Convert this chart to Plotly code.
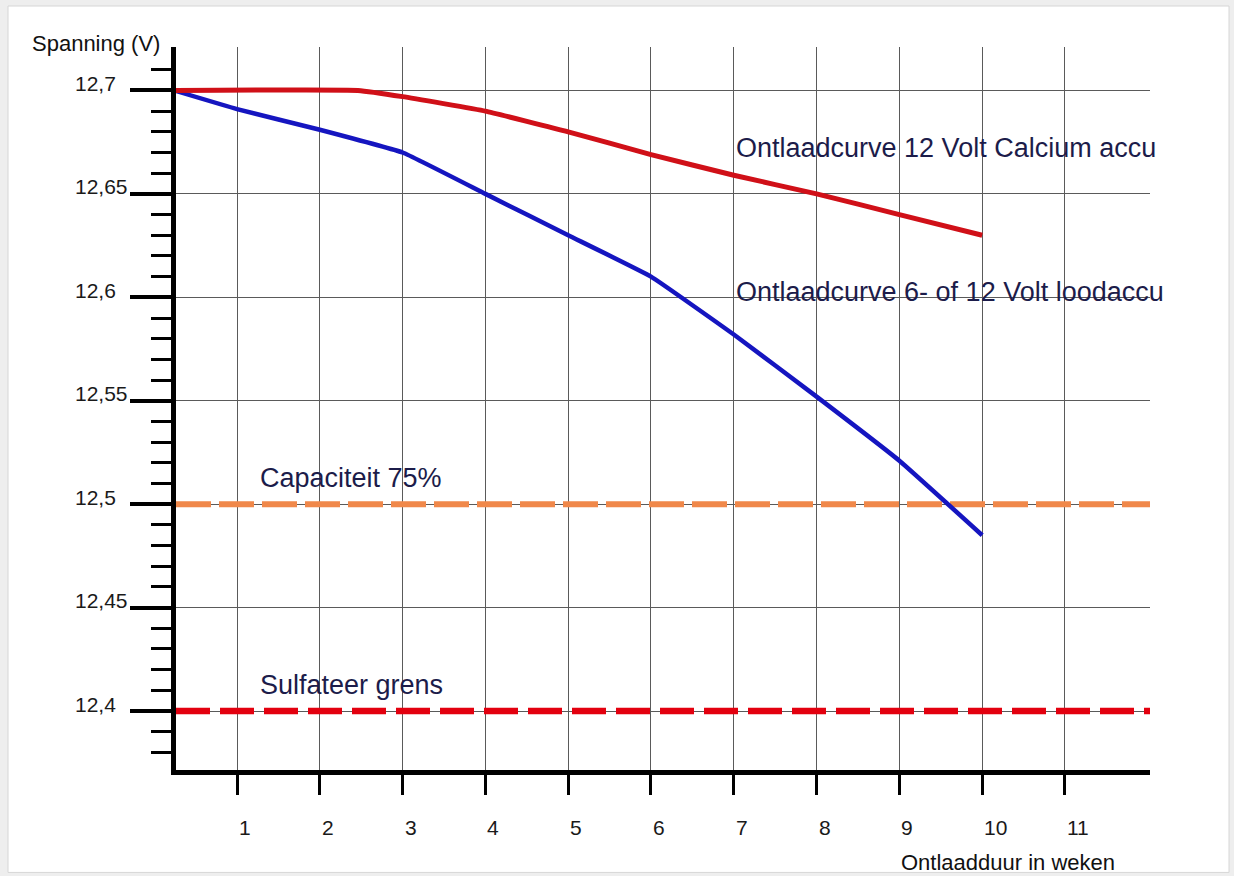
import numpy as np
import plotly.graph_objects as go

# ---------------- data ----------------
weeks_calcium = [0.24, 2.46, 3, 4, 5, 6, 7, 8, 9, 10]
volt_calcium = [12.70, 12.70, 12.697, 12.690, 12.680, 12.669, 12.659, 12.650, 12.640, 12.630]

weeks_lood = [0.24, 1, 2, 3, 4, 5, 6, 7, 8, 9, 10]
volt_lood = [12.70, 12.691, 12.681, 12.670, 12.650, 12.630, 12.610, 12.582, 12.552, 12.521, 12.485]

capaciteit_75 = 12.50
sulfateer_grens = 12.40

x_ticks = [1, 2, 3, 4, 5, 6, 7, 8, 9, 10, 11]
y_ticks = [12.40, 12.45, 12.50, 12.55, 12.60, 12.65, 12.70]
y_ticktext = ["12,4", "12,45", "12,5", "12,55", "12,6", "12,65", "12,7"]

label_calcium = "Ontlaadcurve 12 Volt Calcium accu"
label_lood = "Ontlaadcurve 6- of 12 Volt loodaccu"
label_cap = "Capaciteit 75%"
label_sulf = "Sulfateer grens"

X_RANGE = [0.263, 12.027]
Y_RANGE = [12.3715, 12.721]

FONT = "Liberation Sans, Arial, sans-serif"
TXT = "#1c1c4a"

L, R, T, B = 176, 84, 47, 105.5
W, H = 1234, 876
PW, PH = W - L - R, H - T - B


def px(xp):
    return (xp - L) / PW


def py(yp):
    return (H - B - yp) / PH


minor_vals = [round(v, 2) for v in np.arange(12.38, 12.7151, 0.01)
              if all(abs(v - t) > 1e-6 for t in y_ticks)]

fig = go.Figure()

# reference levels
fig.add_trace(go.Scatter(x=X_RANGE, y=[capaciteit_75] * 2, mode="lines",
                         line=dict(color="#F0884A", width=6, dash="35px,8px"),
                         hoverinfo="skip", showlegend=False))
fig.add_trace(go.Scatter(x=X_RANGE, y=[sulfateer_grens] * 2, mode="lines",
                         line=dict(color="#E3000F", width=6.5, dash="34px,10px"),
                         hoverinfo="skip", showlegend=False))
# curves
fig.add_trace(go.Scatter(x=weeks_lood, y=volt_lood, mode="lines",
                         line=dict(color="#1515C0", width=4.5, shape="spline", smoothing=0.3),
                         showlegend=False))
fig.add_trace(go.Scatter(x=weeks_calcium, y=volt_calcium, mode="lines",
                         line=dict(color="#D01018", width=5, shape="spline", smoothing=0.3),
                         showlegend=False))

annotations = []
# y tick labels (left aligned)
for v, t in zip(y_ticks, y_ticktext):
    annotations.append(dict(x=px(73), xref="paper", y=v, yref="y", text=t,
                            xanchor="left", yanchor="middle", yshift=7, showarrow=False,
                            font=dict(family=FONT, size=21, color="#1a1a1a")))
# x tick labels (left aligned at tick)
for v in x_ticks:
    annotations.append(dict(x=v, xref="x", y=py(828), yref="paper", text=str(v),
                            xanchor="left", yanchor="middle", showarrow=False,
                            font=dict(family=FONT, size=21, color="#1a1a1a")))
# axis titles
annotations.append(dict(x=px(30), xref="paper", y=py(43), yref="paper", text="Spanning (V)",
                        xanchor="left", yanchor="middle", showarrow=False,
                        font=dict(family=FONT, size=22, color="#111111")))
annotations.append(dict(x=9, xref="x", y=py(863), yref="paper", text="Ontlaadduur in weken",
                        xanchor="left", yanchor="middle", showarrow=False,
                        font=dict(family=FONT, size=22, color="#111111")))
# curve labels
annotations.append(dict(x=7.0, y=12.6722, xref="x", yref="y", text=label_calcium,
                        xanchor="left", yanchor="middle", showarrow=False,
                        font=dict(family=FONT, size=27, color=TXT)))
annotations.append(dict(x=7.0, y=12.6027, xref="x", yref="y", text=label_lood,
                        xanchor="left", yanchor="middle", showarrow=False,
                        font=dict(family=FONT, size=27, color=TXT)))
annotations.append(dict(x=1.254, y=12.5128, xref="x", yref="y", text=label_cap,
                        xanchor="left", yanchor="middle", showarrow=False,
                        font=dict(family=FONT, size=27, color=TXT)))
annotations.append(dict(x=1.254, y=12.4124, xref="x", yref="y", text=label_sulf,
                        xanchor="left", yanchor="middle", showarrow=False,
                        font=dict(family=FONT, size=27, color=TXT)))

fig.update_layout(
    width=W, height=H,
    margin=dict(l=L, r=R, t=T, b=B, pad=0),
    paper_bgcolor="#eeeeee",
    plot_bgcolor="white",
    font=dict(family=FONT, size=21, color="#222222"),
    showlegend=False,
    annotations=annotations,
    shapes=[dict(type="rect", xref="paper", yref="paper",
                 x0=px(8), x1=px(1229), y0=py(873), y1=py(6),
                 fillcolor="white", line=dict(color="#d6d6d6", width=1), layer="below")],
    xaxis=dict(range=X_RANGE, tickmode="array", tickvals=x_ticks, showticklabels=False,
               ticks="outside", ticklen=20, tickwidth=3, tickcolor="black",
               showline=True, linewidth=5, linecolor="black",
               showgrid=True, gridcolor="#5a5a5a", gridwidth=1.2, zeroline=False, fixedrange=True),
    yaxis=dict(range=Y_RANGE, tickmode="array", tickvals=y_ticks, showticklabels=False,
               ticks="outside", ticklen=41, tickwidth=3.5, tickcolor="black",
               minor=dict(tickmode="array", tickvals=minor_vals, ticks="outside",
                          ticklen=20, tickwidth=3, tickcolor="black", showgrid=False),
               showline=True, linewidth=5, linecolor="black",
               showgrid=True, gridcolor="#5a5a5a", gridwidth=1.2, zeroline=False, fixedrange=True),
)

fig.write_html("out.html", config={"displayModeBar": False},
               post_script="document.body.style.margin='0px';")
